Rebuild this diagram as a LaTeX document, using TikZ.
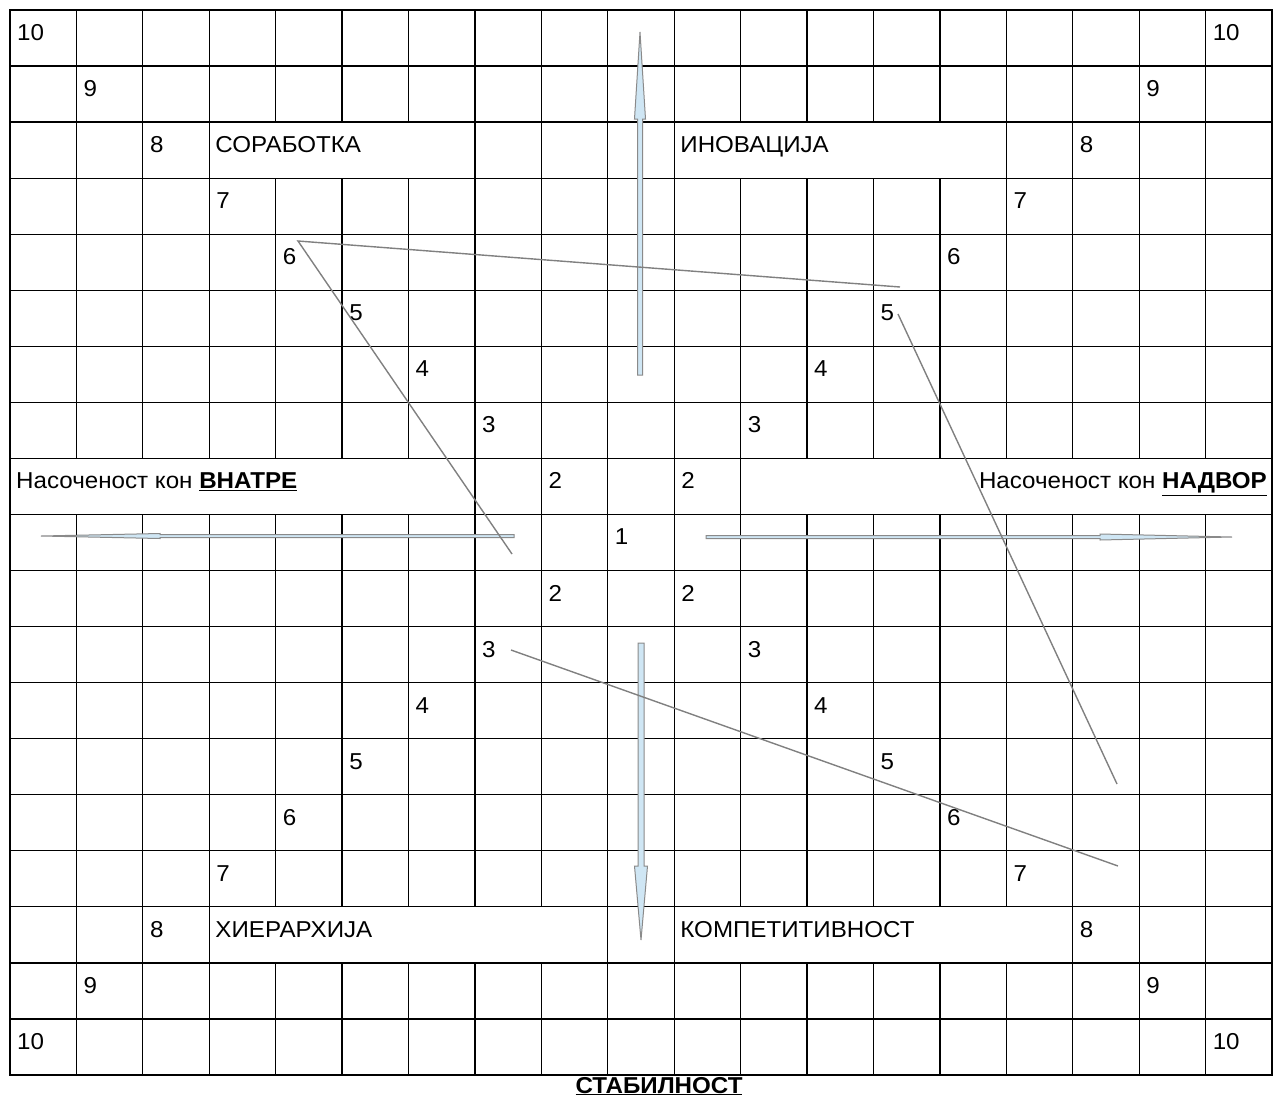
\documentclass[tikz,border=0pt]{standalone}
\usepackage{fontspec}
\setmainfont{Liberation Sans}[FakeStretch=1.05]
\usetikzlibrary{calc}
\definecolor{arrowfill}{HTML}{CFE6F4}
\definecolor{arrowline}{HTML}{8A8A8A}
\definecolor{slantgray}{HTML}{808080}

\begin{document}
\begin{tikzpicture}[x=1pt, y=-1pt,
    gridline/.style={black, line width=1.3pt, line cap=rect},
    slant/.style={slantgray, line width=1.4pt},
    blockarrow/.style={draw=arrowline, fill=arrowfill, line width=1pt, line join=miter},
    num/.style={anchor=base west, inner sep=0pt, font=\fontsize{23}{27}\selectfont},
    lbl/.style={num},
    lblr/.style={anchor=base east, inner sep=0pt, font=\fontsize{23}{27}\selectfont}]
    \useasboundingbox (0,0) rectangle (1275,1101);
    \foreach \j in {0,...,19}
        \draw[gridline] (10,{10+56.05*\j}) -- (1272,{10+56.05*\j});
    \draw[gridline] (10,10) -- (10,1075);
    \draw[gridline] (1272,10) -- (1272,1075);
    \foreach \i in {1,...,18}{
        \pgfmathsetmacro{\gx}{10+66.42*\i}
        \foreach \a/\b in {0/2,3/8,9/16,17/19}
            \draw[gridline] (\gx,{10+56.05*\a}) -- (\gx,{10+56.05*\b});
    }
    \foreach \r/\lst in {2/{1,2,3,7,8,9,10,15,16,17,18}, 8/{7,8,9,10,11}, 16/{1,2,3,9,10,16,17,18}}
        \foreach \i in \lst
            \draw[gridline] ({10+66.42*\i},{10+56.05*\r}) -- ({10+66.42*\i},{10+56.05*(\r+1)});
    \foreach \r/\v in {0/10,1/9,2/8,3/7,4/6,5/5,6/4,7/3,8/2}{
        \node[num] (tl\v) at ({17+66.42*\r},{40.5+56.05*\r}) {\v};
        \node[num] (tr\v) at ({17+66.42*(18-\r)},{40.5+56.05*\r}) {\v};
        \node[num] (bl\v) at ({17+66.42*\r},{40.5+56.05*(18-\r)}) {\v};
        \node[num] (br\v) at ({17+66.42*(18-\r)},{40.5+56.05*(18-\r)}) {\v};
    }
    \node[num] (c1) at ({17+66.42*9},{40.5+56.05*9}) {1};
    \node[lbl] (sorabotka) at ({16+66.42*3},{40.5+56.05*2}) {СОРАБОТКА};
    \node[lbl] (inovacija) at ({16+66.42*10},{40.5+56.05*2}) {ИНОВАЦИЈА};
    \node[lbl] (hierarhija) at ({16+66.42*3},{40.5+56.05*16}) {ХИЕРАРХИЈА};
    \node[lbl] (kompet) at ({16+66.42*10},{40.5+56.05*16}) {КОМПЕТИТИВНОСТ};
    \node[lbl] (vnatre) at (16,{40.5+56.05*8}) {Насоченост кон \textbf{\underline{ВНАТРЕ}}};
    \node[lblr] (nadvor) at (1267,{40.5+56.05*8}) {Насоченост кон \textbf{\underline{НАДВОР}}};
    \node[lblr, anchor=base] (stabilnost) at (659,1093) {\textbf{\underline{СТАБИЛНОСТ}}};
    \draw[blockarrow] (637.5,375) -- (637.5,119) -- (634.5,119) -- (640,32) -- (645.5,119) -- (642.5,119) -- (642.5,375) -- cycle;
    \draw[blockarrow] (638,643) -- (638,866) -- (634.5,866) -- (641,940) -- (647.5,866) -- (644,866) -- (644,643) -- cycle;
    \draw[blockarrow] (514,534.5) -- (160,534.5) -- (160,533.5) -- (41,536) -- (160,538.5) -- (160,537.5) -- (514,537.5) -- cycle;
    \draw[blockarrow] (706,535.5) -- (1100,535.5) -- (1100,534) -- (1232,537) -- (1100,540) -- (1100,538.5) -- (706,538.5) -- cycle;
    \coordinate (p6) at (298,241);
    \coordinate (q5) at (900,287);
    \coordinate (q2) at (512,554);
    \coordinate (r5) at (898,314);
    \coordinate (r7) at (1117,784);
    \coordinate (s3) at (511,650);
    \coordinate (s7) at (1118,866);
    \draw[slant] (q5) -- (p6) -- (q2);
    \draw[slant] (r5) -- (r7);
    \draw[slant] (s3) -- (s7);
\end{tikzpicture}
\end{document}
